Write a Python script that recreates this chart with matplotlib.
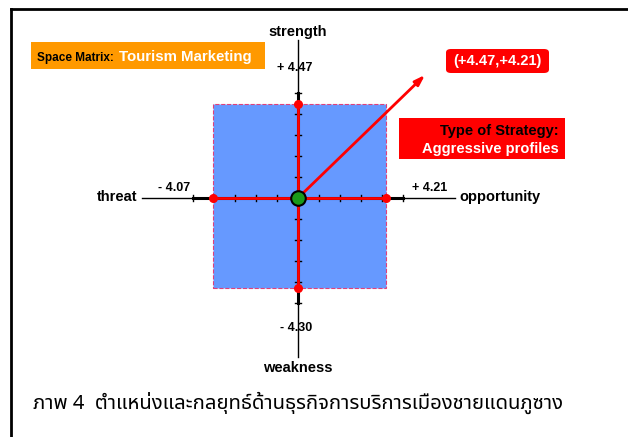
import matplotlib
matplotlib.use("Agg")
import matplotlib.pyplot as plt
from matplotlib.patches import Rectangle, FancyBboxPatch
from matplotlib.lines import Line2D

# ---- data ----
strength = 4.47
weakness = -4.30
threat = -4.07
opportunity = 4.21
tick_values = [-5, -4, -3, -2, -1, 1, 2, 3, 4, 5]
arrow_tip = (6.05, 5.86)
point_label = "(+4.47,+4.21)"
strategy_lines = ["Type of Strategy:", "Aggressive profiles"]
caption = "ภาพ 4  ตำแหน่งและกลยุทธ์ด้านธุรกิจการบริการเมืองชายแดนภูซาง"

plt.rcParams["font.family"] = ["Liberation Sans", "DejaVu Sans"]

W, H = 628, 437
unit = 21.0
cx, cy = 298, 198  # pixel position of origin

fig = plt.figure(figsize=(W / 100, H / 100), dpi=100)
ax = fig.add_axes([0, 0, 1, 1])
ax.set_xlim(-cx / unit, (W - cx) / unit)
ax.set_ylim(-(H - cy) / unit, cy / unit)
ax.axis("off")

# outer frame (cropped)
fig.add_artist(Line2D([11 / W, 11 / W], [0, 1 - 9 / H], color="black", lw=2))
fig.add_artist(Line2D([11 / W, 1], [1 - 9 / H, 1 - 9 / H], color="black", lw=2))

# blue quadrant rectangle
ax.add_patch(Rectangle((threat, weakness), opportunity - threat, strength - weakness,
                       facecolor="#6699ff", edgecolor="#e0407a", lw=0.8, ls="--", zorder=1))

# axes lines
ax.plot([-7.45, 7.48], [0, 0], color="black", lw=1, zorder=2)
ax.plot([0, 0], [-7.55, 7.52], color="black", lw=1, zorder=2)
ax.plot([-5, 5], [0, 0], color="black", lw=2.2, zorder=2)
ax.plot([0, 0], [-5, 5], color="black", lw=2.2, zorder=2)
for t in tick_values:
    ax.plot([t, t], [-0.16, 0.16], color="black", lw=1, zorder=3)
    ax.plot([-0.16, 0.16], [t, t], color="black", lw=1, zorder=3)

# red span lines and end points
ax.plot([threat, opportunity], [0, 0], color="red", lw=2, zorder=4)
ax.plot([0, 0], [weakness, strength], color="red", lw=2, zorder=4)
ax.scatter([threat, opportunity, 0, 0], [0, 0, strength, weakness],
           s=30, color="red", zorder=5)

# vector arrow
ax.annotate("", xy=arrow_tip, xytext=(0, 0),
            arrowprops=dict(arrowstyle="-|>,head_length=0.6,head_width=0.2",
                            color="red", lw=2, shrinkA=0, shrinkB=0), zorder=6)
ax.scatter([0], [0], s=110, color="#1a9a1a", edgecolors="black", linewidths=1.5, zorder=7)

# axis labels
bold = dict(fontweight="bold", color="black")
ax.text(0, 7.9, "strength", ha="center", va="center", fontsize=10.5, **bold)
ax.text(0, -8.1, "weakness", ha="center", va="center", fontsize=10.5, **bold)
ax.text(-7.67, 0.05, "threat", ha="right", va="center", fontsize=10.5, **bold)
ax.text(7.67, 0.05, "opportunity", ha="left", va="center", fontsize=10.5, **bold)

ax.text(-0.14, 6.2, f"+ {strength:.2f}", ha="center", va="center", fontsize=9, **bold)
ax.text(-0.1, -6.2, f"- {abs(weakness):.2f}", ha="center", va="center", fontsize=9, **bold)
ax.text(-5.9, 0.48, f"- {abs(threat):.2f}", ha="center", va="center", fontsize=9, **bold)
ax.text(6.26, 0.48, f"+ {opportunity:.2f}", ha="center", va="center", fontsize=9, **bold)

# orange title box
fig.patches.append(Rectangle((31 / W, 1 - 69 / H), 234 / W, 27 / H, transform=fig.transFigure,
                             facecolor="#ff9900", edgecolor="none"))
fig.text(37 / W, 1 - 58 / H, "Space Matrix:", fontsize=8.5, fontweight="bold", color="black",
         va="center", ha="left")
fig.text(119 / W, 1 - 57 / H, "Tourism Marketing", fontsize=10.8, fontweight="bold", color="white",
         va="center", ha="left")

# red coordinate box
fig.patches.append(FancyBboxPatch((446 / W, 1 - 73 / H), 103 / W, 24 / H,
                                  boxstyle="round,pad=0,rounding_size=0.008",
                                  transform=fig.transFigure, facecolor="red", edgecolor="none"))
fig.text(497.5 / W, 1 - 61 / H, point_label, fontsize=10.5, fontweight="bold", color="white",
         ha="center", va="center")

# strategy box
fig.patches.append(Rectangle((399 / W, 1 - 159 / H), 166 / W, 41 / H, transform=fig.transFigure,
                             facecolor="red", edgecolor="none"))
fig.text(559 / W, 1 - 131 / H, strategy_lines[0], fontsize=10.5, fontweight="bold", color="black",
         ha="right", va="center")
fig.text(559 / W, 1 - 149 / H, strategy_lines[1], fontsize=10.5, fontweight="bold", color="white",
         ha="right", va="center")

# Thai caption
fig.text(33 / W, 1 - 403 / H, caption, fontsize=14.6, color="black", ha="left", va="center",
         family=["Noto Sans Thai", "Loma", "Garuda", "Norasi", "DejaVu Sans", "Noto Sans"])

fig.savefig("out.png", dpi=100)
